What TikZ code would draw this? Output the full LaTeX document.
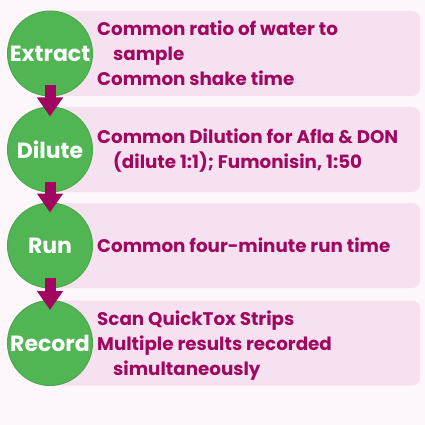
\documentclass[tikz,border=0pt]{standalone}
\usepackage{fontspec}
\setmainfont{Poppins}
\usepackage{xcolor}
\definecolor{bgpink}{HTML}{FDF6FB}
\definecolor{bandpink}{HTML}{F5E1F0}
\definecolor{stepgreen}{HTML}{52B554}
\definecolor{stepedge}{HTML}{4AA84D}
\definecolor{notemag}{HTML}{A0075F}
\usepackage{tikz}
\usetikzlibrary{arrows.meta,positioning}

\begin{document}
\begin{tikzpicture}[x=1pt,y=-1pt,
  band/.style={fill=bandpink, rounded corners=8pt, minimum width=370pt,
               minimum height=85pt, anchor=west, inner sep=0pt},
  stepcirc/.style={circle, fill=stepgreen, draw=stepedge, line width=1pt,
                   minimum size=85pt, inner sep=0pt, text=white,
                   font=\fontsize{22}{22}\selectfont\bfseries},
  note/.style={anchor=west, align=left, text=notemag, inner sep=0pt,
               font=\fontsize{18.3}{25}\selectfont\bfseries},
  flow/.style={draw=notemag, line width=11pt,
               -{Triangle[width=25pt,length=19pt]}}
]
  \fill[bgpink] (0,0) rectangle (425,425);
  \useasboundingbox (0,0) rectangle (425,425);

  % bands behind the steps
  \node[band] (extractbox) at (50,53.5) {};
  \node[band] (dilutebox)  at (50,149.5) {};
  \node[band] (runbox)     at (50,245.5) {};
  \node[band] (recordbox)  at (50,343) {};

  % steps
  \node[stepcirc] (extract) at (extractbox.west) {Extract};
  \node[stepcirc] (dilute)  at (dilutebox.west)  {Dilute};
  \node[stepcirc] (run)     at (runbox.west)     {Run};
  \node[stepcirc] (record)  at (recordbox.west)  {Record};

  % notes
  \node[note] (extractnote) at ([xshift=47pt]extractbox.west)
    {Common ratio of water to\\\hspace*{16pt}sample\\Common shake time};
  \node[note] (dilutenote) at ([xshift=47pt,yshift=-1pt]dilutebox.west)
    {Common Dilution for Afla \& DON\\\hspace*{16pt}(dilute 1:1); Fumonisin, 1:50};
  \node[note] (runnote) at ([xshift=47pt]runbox.west)
    {Common four-minute run time};
  \node[note] (recordnote) at ([xshift=47pt,yshift=-3pt]recordbox.west)
    {Scan QuickTox Strips\\Multiple results recorded\\\hspace*{16pt}simultaneously};

  % arrows between steps
  \draw[flow] ([yshift=11pt]extract.south) -- ([yshift=-10pt]dilute.north);
  \draw[flow] ([yshift=11pt]dilute.south)  -- ([yshift=-10pt]run.north);
  \draw[flow] ([yshift=11pt]run.south)     -- ([yshift=-10pt]record.north);
\end{tikzpicture}
\end{document}
